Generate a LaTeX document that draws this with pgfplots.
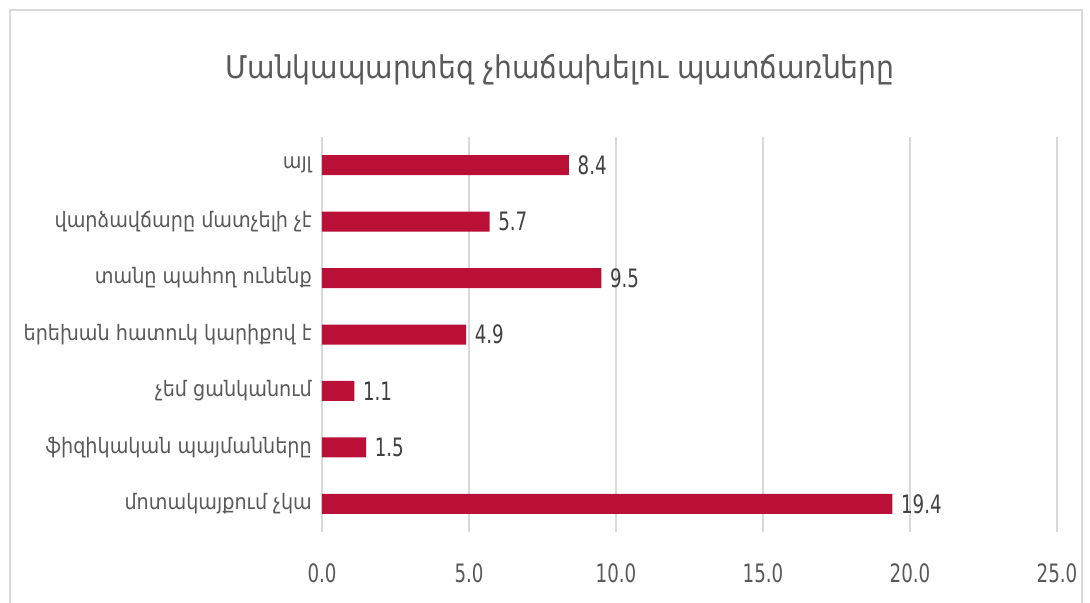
\documentclass[border=0pt]{standalone}
\usepackage{fontspec}
\setmainfont{DejaVu Sans Condensed}
\newfontfamily\numfont[FakeStretch=0.8]{DejaVu Sans Condensed}
\usepackage{pgfplots}
\pgfplotsset{compat=1.18}
\definecolor{barred}{HTML}{BA1037}
\definecolor{txtgray}{HTML}{595959}
\definecolor{gridgray}{HTML}{D9D9D9}

\pgfplotstableread{
idx val
0 19.4
1 1.5
2 1.1
3 4.9
4 9.5
5 5.7
6 8.4
}\reasons

\begin{document}
\begin{tikzpicture}[x=0.75pt,y=0.75pt]
  \useasboundingbox (0,0) rectangle (1090,603);
  \draw[gridgray,line width=1pt] (10,-5) -- (10,593) -- (1082,593) -- (1082,-5);
  \node[txtgray,font=\fontsize{23.5}{28}\selectfont] at (560,533) {Մանկապարտեզ չհաճախելու պատճառները};
  \begin{axis}[
    at={(241.5pt,53.25pt)}, anchor=south west,
    scale only axis,
    width=551.25pt, height=296.25pt,
    xbar, bar width=15pt,
    xmin=0, xmax=25,
    ymin=-0.5, ymax=6.5,
    xtick={0,5,...,25},
    ytick={0,...,6},
    yticklabels={մոտակայքում չկա, ֆիզիկական պայմանները, չեմ ցանկանում, երեխան հատուկ կարիքով է, տանը պահող ունենք, վարձավճարը մատչելի չէ, այլ},
    axis line style={draw=none},
    major tick length=0pt,
    xmajorgrids, grid style={gridgray,line width=0.8pt},
    yticklabel style={txtgray,font=\fontsize{16}{19}\selectfont,xshift=-4pt},
    xticklabel style={txtgray,font=\numfont\fontsize{19}{22}\selectfont,
      /pgf/number format/fixed,/pgf/number format/fixed zerofill,/pgf/number format/precision=1,/pgf/number format/assume math mode=true,yshift=-20pt},
    nodes near coords,
    every node near coord/.append style={text=black!75,font=\numfont\fontsize{19}{22}\selectfont,xshift=3pt,
      /pgf/number format/fixed,/pgf/number format/fixed zerofill,/pgf/number format/precision=1,/pgf/number format/assume math mode=true},
  ]
    \addplot[fill=barred,draw=none] table[x=val,y=idx] {\reasons};
  \end{axis}
\end{tikzpicture}
\end{document}
